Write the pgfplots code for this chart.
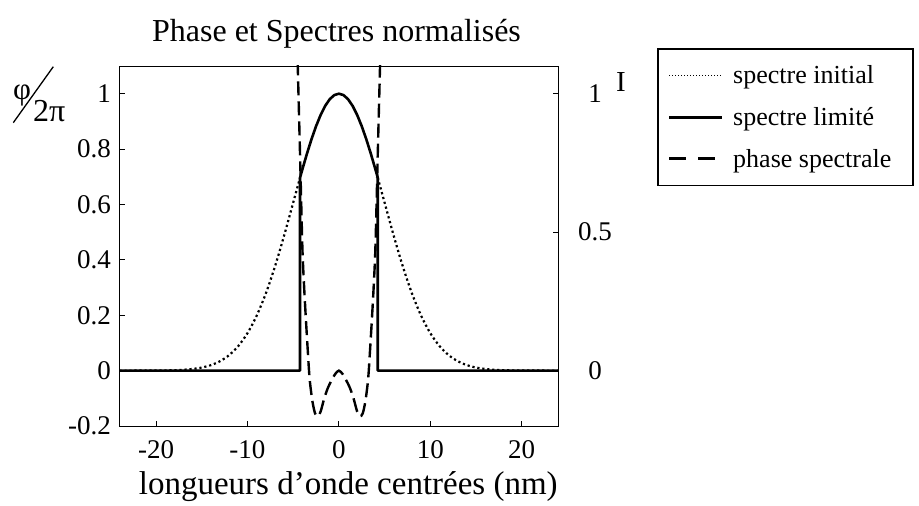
\documentclass[border=0pt]{standalone}
\usepackage{fontspec}
\setmainfont{Liberation Serif}
\usepackage{pgfplots}
\pgfplotsset{compat=1.18}
\begin{document}
\begin{tikzpicture}[x=1pt,y=1pt]
\begin{axis}[
  at={(119.5pt,80pt)}, anchor=south west,
  scale only axis, width=438.8pt, height=360pt,
  xmin=-24, xmax=24, ymin=-0.2, ymax=1.1,
  axis line style={line width=0.9pt},
  xtick={-20,-10,0,10,20}, xticklabels={-20,-10,0,10,20},
  ytick={-0.2,0,0.2,0.4,0.6,0.8,1}, yticklabels={-0.2,0,0.2,0.4,0.6,0.8,1},
  xtick pos=bottom, ytick pos=left, tick align=inside, major tick length=5pt,
  tick style={line width=0.8pt, black},
  ticklabel style={font=\fontsize{27}{31}\selectfont},
  xticklabel style={anchor=base, yshift=-33pt},
  yticklabel style={xshift=-5pt},
  legend image code/.code={\draw[#1] (0pt,0pt) -- (53pt,0pt); \path[draw=none,fill=none] (0pt,0pt) -- (62pt,0pt);},
  legend style={at={(1.225,1.05)}, anchor=north west, draw=black, line width=1.8pt,
    fill=white, font=\fontsize{26}{30}\selectfont, inner xsep=10pt, inner ysep=15pt,
    row sep=18pt},
  legend cell align=left,
]
% spectre initial (dotted)
\addplot[forget plot, smooth, line width=2.2pt, dash pattern=on 2.2pt off 2.8pt] coordinates {
(-24,0.0000) (-23,0.0000) (-22,0.0001) (-21,0.0001) (-20,0.0003) (-19,0.0007) (-18,0.0015)
(-17,0.0031) (-16,0.0060) (-15,0.0111) (-14,0.0198) (-13,0.0340) (-12,0.0561) (-11,0.0889)
(-10,0.1353) (-9,0.1979) (-8,0.2780) (-7,0.3753) (-6,0.4868) (-5,0.6065) (-4.25,0.6968)
};
\addplot[forget plot, smooth, line width=2.2pt, dash pattern=on 2.2pt off 2.8pt] coordinates {
(4.25,0.6968) (5,0.6065) (6,0.4868) (7,0.3753) (8,0.2780) (9,0.1979) (10,0.1353)
(11,0.0889) (12,0.0561) (13,0.0340) (14,0.0198) (15,0.0111) (16,0.0060) (17,0.0031)
(18,0.0015) (19,0.0007) (20,0.0003) (21,0.0001) (22,0.0001) (23,0.0000) (24,0.0000)
};
% spectre limite (solid)
\addplot[forget plot, line width=2.6pt, line join=round] coordinates {
(-24,0) (-4.25,0) (-4.25,0.6968) (-4,0.7261) (-3.5,0.7827) (-3,0.8353) (-2.5,0.8825)
(-2,0.9231) (-1.5,0.9560) (-1,0.9802) (-0.5,0.9950) (0,1) (0.5,0.9950) (1,0.9802)
(1.5,0.9560) (2,0.9231) (2.5,0.8825) (3,0.8353) (3.5,0.7827) (4,0.7261) (4.25,0.6968)
(4.25,0) (24,0)
};
% phase spectrale (dashed)
\addplot[forget plot, smooth, line width=2.4pt, dash pattern=on 14pt off 6pt] coordinates {
(-4.8,1.55) (-4.65,1.3) (-4.5,1.1) (-4.25,0.78) (-4.0,0.45) (-3.8,0.30) (-3.6,0.18)
(-3.4,0.07) (-3.2,-0.03) (-2.9,-0.11) (-2.6,-0.155) (-2.3,-0.165) (-2.0,-0.148)
(-1.6,-0.10) (-1.2,-0.062) (-0.8,-0.035) (-0.4,-0.012) (0,0) (0.4,-0.012) (0.8,-0.035)
(1.2,-0.062) (1.6,-0.10) (2.0,-0.148) (2.3,-0.165) (2.6,-0.155) (2.9,-0.11) (3.2,-0.03)
(3.4,0.07) (3.6,0.18) (3.8,0.30) (4.0,0.45) (4.25,0.78) (4.5,1.1) (4.65,1.3) (4.8,1.55)
};
\addlegendimage{line width=1pt, dash pattern=on 1pt off 2pt}
\addlegendentry{\makebox[168pt][l]{spectre initial}}
\addlegendimage{line width=2.6pt}
\addlegendentry{\makebox[168pt][l]{spectre limité}}
\addlegendimage{line width=2.6pt, dash pattern=on 17pt off 12pt}
\addlegendentry{\makebox[168pt][l]{phase spectrale}}
\end{axis}
\begin{axis}[
  at={(119.5pt,80pt)}, anchor=south west,
  scale only axis, width=438.8pt, height=360pt,
  xmin=-24, xmax=24, ymin=-0.2, ymax=1.1,
  hide x axis, axis y line*=right,
  axis line style={line width=0.9pt},
  ytick={0,0.5,1}, yticklabels={0,0.5,1},
  tick align=inside, major tick length=5pt,
  tick style={line width=0.8pt, black},
  yticklabel style={font=\fontsize{27}{31}\selectfont, anchor=center, xshift=36.7pt},
]
\end{axis}
\node[font=\fontsize{32}{36}\selectfont, anchor=base] at (336.5,464.3) {Phase et Spectres normalisés};
\node[font=\fontsize{33}{38}\selectfont, anchor=base] at (348.3,11) {longueurs d’onde centrées (nm)};
\node[font=\fontsize{31}{35}\selectfont, anchor=base, inner sep=0pt] at (22,406) {φ};
\node[font=\fontsize{32}{36}\selectfont, anchor=base west, inner sep=0pt] at (33,384) {2π};
\draw[line width=1.3pt] (13.3,383.3) -- (53.3,439.3);
\node[font=\fontsize{29}{34}\selectfont, anchor=base, inner sep=0pt] at (621,414) {I};
\pgfresetboundingbox
\useasboundingbox (0,0) rectangle (919,506);
\end{tikzpicture}
\end{document}
